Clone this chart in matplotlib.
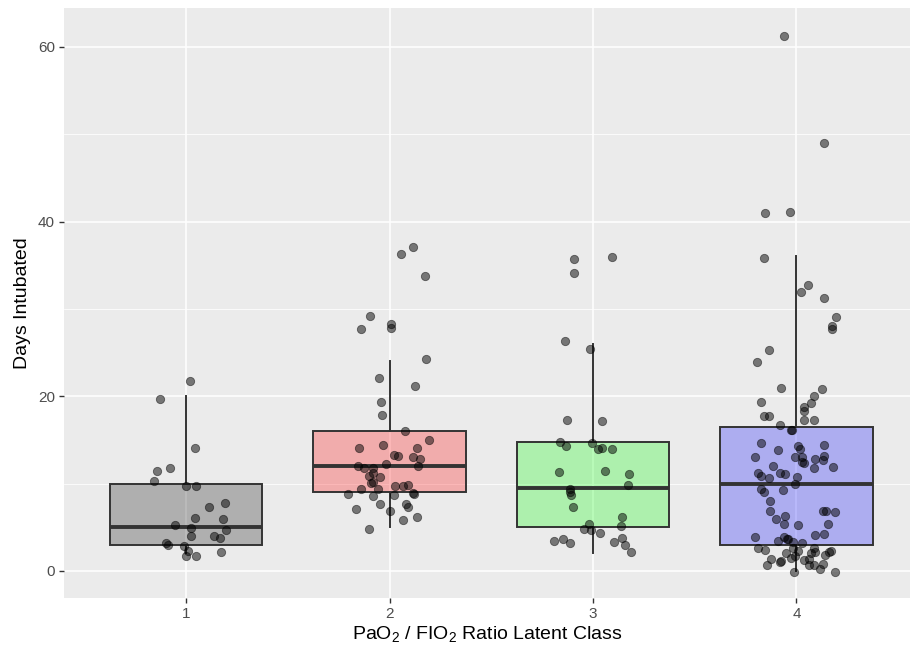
import matplotlib
matplotlib.use('Agg')
import matplotlib.pyplot as plt
from matplotlib.ticker import MultipleLocator

plt.rcParams['font.family'] = ['Liberation Sans', 'DejaVu Sans']
plt.rcParams['mathtext.fontset'] = 'custom'
plt.rcParams['mathtext.rm'] = 'Liberation Sans'

# 잠재 클래스
classes = [1, 2, 3, 4]

# 상자그림 통계
whisker_low = [2, 5, 2, 0]
q1 = [3, 9, 5, 3]
median = [5, 12, 9.5, 10]
q3 = [10, 16, 14.75, 16.5]
whisker_high = [20, 24, 26, 36]

fill_colors = ['#262626', '#FF1C1C', '#20FC20', '#2020FC']

# 지터된 점: 클래스 중심으로부터의 x 오프셋, y 값
c1_dx = [0.018, -0.126, 0.046, -0.080, -0.144, -0.159, 0.001, 0.051, 0.193, 0.114,
         0.046, 0.183, -0.054, 0.025, 0.198, 0.025, 0.136, 0.168, -0.098, -0.087,
         -0.011, 0.011, 0.170, 0.001, 0.051]
c1_y = [21.8, 19.7, 14.1, 11.8, 11.4, 10.3, 9.7, 9.7, 7.8, 7.3,
        6.07, 5.9, 5.3, 4.96, 4.7, 3.97, 4.0, 3.78, 3.24, 3.0,
        2.9, 2.3, 2.18, 1.75, 1.75]

c2_dx = [0.113, 0.057, 0.173, -0.095, -0.139, 0.005, 0.008, 0.178, -0.053, 0.126,
         -0.041, -0.038, 0.075, 0.195, -0.152, -0.033, 0.133, 0.021, 0.041, 0.114,
         0.152, -0.016, -0.156, -0.124, -0.079, 0.139, -0.082, -0.102, -0.048, -0.090,
         -0.080, -0.141, -0.057, 0.026, 0.065, 0.090, -0.203, -0.079, 0.020, 0.113,
         0.121, -0.049, 0.080, 0.092, -0.165, 0.001, 0.133, 0.065, -0.100]
c2_y = [37.07, 36.26, 33.78, 29.17, 27.75, 28.25, 27.86, 24.24, 22.14, 21.18,
        19.39, 17.9, 16.0, 14.96, 14.05, 14.39, 14.08, 13.28, 13.17, 13.09,
        12.82, 12.29, 12.06, 11.83, 11.76, 11.99, 11.19, 10.92, 10.8, 10.04,
        10.15, 9.43, 9.43, 9.7, 9.73, 9.85, 8.82, 8.63, 8.67, 8.9,
        8.82, 7.67, 7.67, 7.36, 7.06, 6.91, 6.22, 5.84, 4.81]

c3_dx = [-0.093, 0.093, -0.093, -0.136, -0.016, -0.129, 0.044, -0.162, -0.133, -0.006,
         0.026, 0.043, 0.093, -0.168, 0.057, 0.177, 0.173, -0.113, -0.111, -0.109,
         -0.100, 0.141, 0.137, -0.021, -0.044, -0.011, 0.034, 0.141, -0.147, -0.191,
         -0.113, 0.102, 0.156, 0.185]
c3_y = [35.73, 35.92, 34.16, 26.37, 25.42, 17.33, 17.18, 14.81, 14.35, 14.62,
        13.97, 14.12, 13.93, 11.3, 11.42, 11.14, 9.88, 9.35, 9.05, 8.7,
        7.29, 6.18, 5.11, 5.42, 4.81, 4.69, 4.31, 3.78, 3.7, 3.4,
        3.21, 3.28, 3.0, 2.14]

c4_dx = [-0.060, 0.136, -0.157, -0.033, -0.162, 0.059, 0.023, 0.136, 0.195, 0.175,
         0.175, -0.137, -0.196, -0.075, 0.124, 0.085, -0.175, 0.072, 0.038, 0.038,
         -0.162, -0.136, 0.036, 0.085, -0.083, -0.029, -0.021, -0.173, 0.137, 0.008,
         0.016, -0.090, -0.203, -0.006, 0.025, 0.136, 0.090, 0.128, 0.029, 0.038,
         -0.116, 0.182, 0.087, -0.187, -0.175, -0.079, -0.055, -0.134, 0.001, -0.005,
         -0.175, -0.162, -0.065, -0.129, -0.128, 0.131, 0.147, 0.188, -0.103, -0.057,
         -0.062, 0.008, 0.154, -0.203, -0.062, -0.048, -0.041, -0.092, -0.015, 0.026,
         0.090, 0.134, -0.188, -0.154, 0.088, 0.093, -0.049, 0.006, 0.070, 0.141,
         0.162, 0.168, -0.123, -0.083, -0.074, -0.025, 0.036, 0.064, -0.146, 0.060,
         0.087, 0.128, 0.114, -0.011, 0.187, -0.005, -0.016]
c4_y = [61.2, 48.97, 40.96, 41.07, 35.88, 32.75, 31.98, 31.26, 29.12, 28.05,
        27.75, 25.31, 23.97, 20.99, 20.8, 20.04, 19.32, 19.24, 18.74, 18.29,
        17.71, 17.75, 17.29, 17.25, 16.75, 16.18, 16.15, 14.66, 14.43, 14.35,
        13.97, 13.86, 13.02, 13.02, 13.02, 13.17, 12.82, 12.67, 12.45, 12.33,
        12.06, 11.87, 11.79, 11.19, 10.92, 11.19, 11.11, 10.68, 10.8, 9.96,
        9.39, 9.01, 9.31, 8.02, 6.91, 6.87, 6.87, 6.79, 5.92, 6.30,
        5.38, 5.30, 5.34, 3.93, 3.93, 3.70, 3.63, 3.40, 3.28, 3.17,
        4.12, 4.24, 2.67, 2.40, 2.67, 2.21, 2.10, 2.25, 2.02, 1.83,
        2.21, 2.32, 1.34, 1.07, 1.15, 1.45, 1.26, 1.34, 0.69, 0.69,
        0.69, 0.80, 0.19, -0.08, -0.15, 1.72, 2.6]

jitter_dx = [c1_dx, c2_dx, c3_dx, c4_dx]
jitter_y = [c1_y, c2_y, c3_y, c4_y]

fig = plt.figure(figsize=(9.12, 6.46), dpi=100)
ax = fig.add_axes([64 / 912, 48 / 646, 846 / 912, 590 / 646])
ax.set_facecolor('#EBEBEB')

# 그리드
ax.yaxis.set_major_locator(MultipleLocator(20))
ax.yaxis.set_minor_locator(MultipleLocator(10))
ax.grid(True, which='major', color='white', linewidth=1.1)
ax.grid(True, which='minor', axis='y', color='white', linewidth=0.55)
ax.set_axisbelow(True)

# 상자그림
stats = []
for i in range(len(classes)):
    stats.append({'whislo': whisker_low[i], 'q1': q1[i], 'med': median[i],
                  'q3': q3[i], 'whishi': whisker_high[i]})
bp = ax.bxp(stats, positions=classes, widths=0.75, patch_artist=True,
            showfliers=False, showcaps=False,
            boxprops=dict(edgecolor='#333333', linewidth=1.4),
            whiskerprops=dict(color='#333333', linewidth=1.4),
            medianprops=dict(color='#333333', linewidth=2.8, solid_capstyle='butt'),
            zorder=2)
for patch, c in zip(bp['boxes'], fill_colors):
    patch.set_facecolor(matplotlib.colors.to_rgba(c, 0.3))

# 지터 점
for cls, dx, ys in zip(classes, jitter_dx, jitter_y):
    xs = [cls + d for d in dx]
    ax.scatter(xs, ys, s=36, color='black', alpha=0.5, edgecolors='black',
               linewidths=0.6, zorder=3)

ax.set_xlim(0.4, 4.558)
ax.set_ylim(-3.1, 64.45)
ax.set_xticks(classes)
ax.set_xticklabels([str(c) for c in classes])

for s in ax.spines.values():
    s.set_visible(False)
ax.tick_params(axis='both', which='major', length=3.5, width=1.0, color='#333333',
               labelcolor='#4D4D4D', labelsize=11, pad=3)
ax.tick_params(axis='y', which='minor', length=0)

ax.set_xlabel(r'PaO$_2$ / FIO$_2$ Ratio Latent Class', fontsize=14, color='black', labelpad=3)
ax.set_ylabel('Days Intubated', fontsize=14, color='black', labelpad=5)

fig.savefig('out.png', dpi=100, facecolor='white')
